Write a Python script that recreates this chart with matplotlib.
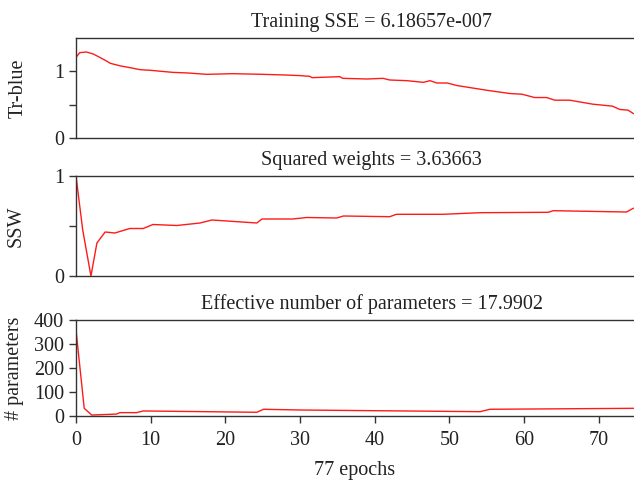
import numpy as np
import matplotlib
matplotlib.use("Agg")
import matplotlib.pyplot as plt

plt.rcParams['font.family'] = ['Liberation Serif', 'DejaVu Serif']

# données
ep_tr = [0, 0.5, 1.4, 2.3, 3, 4, 4.6, 6, 7, 8.6, 10, 12.9, 15, 17.5, 21, 25, 28, 30, 31.3, 31.6,
         35.3, 35.7, 39, 41.1, 42, 44.3, 46.5, 47.4, 48.3, 49.7, 51, 55, 58.1, 59.7, 61.4,
         63, 64.1, 66.1, 69.2, 71.8, 72.8, 73.9, 74.6]
tr_blue = [1.21, 1.28, 1.29, 1.26, 1.22, 1.16, 1.12, 1.08, 1.06, 1.025, 1.015, 0.985, 0.975,
           0.955, 0.965, 0.955, 0.945, 0.936, 0.925, 0.905, 0.92, 0.895, 0.885, 0.895, 0.87,
           0.86, 0.835, 0.86, 0.825, 0.825, 0.787, 0.716, 0.667, 0.657, 0.607, 0.607, 0.567,
           0.567, 0.507, 0.478, 0.428, 0.418, 0.368]

ep_ssw = [0, 0.9, 2.0, 2.8, 3.9, 5.2, 7.2, 9, 10.3, 13.5, 16.6, 18.2, 24.2, 24.9, 29, 30.9,
          34.9, 35.8, 42, 42.9, 49.1, 54.1, 63.2, 63.9, 73.7, 74.6]
ssw = [1.0, 0.46, 0.0, 0.33, 0.44, 0.43, 0.475, 0.475, 0.515, 0.505, 0.53, 0.56, 0.53, 0.57,
       0.57, 0.585, 0.58, 0.60, 0.593, 0.617, 0.617, 0.633, 0.637, 0.653, 0.64, 0.677]

ep_par = [0, 1.1, 2.1, 5.4, 5.9, 8.1, 9, 24.2, 25.1, 30, 54.1, 55.4, 74.6]
n_par = [358, 32, 4, 8, 14, 14, 21, 15.5, 28, 25, 18, 28, 32]

titres = ['Training SSE = 6.18657e-007', 'Squared weights = 3.63663',
          'Effective number of parameters = 17.9902']
ylabels = ['Tr-blue', 'SSW', '# parameters']

fig = plt.figure(figsize=(6.34, 4.83), dpi=100)
W, H = 634, 483
boites = [(38, 138), (176, 276), (320, 416)]
gris = '#333333'
texte = '#222222'
axes = []
for (top, bot) in boites:
    ax = fig.add_axes([76 / W, 1 - bot / H, 1 - 76 / W, (bot - top) / H])
    axes.append(ax)

ax1, ax2, ax3 = axes
ax1.plot(ep_tr, tr_blue, color='#ff1a1a', lw=1)
ax2.plot(ep_ssw, ssw, color='#ff1a1a', lw=1)
ax3.plot(ep_par, n_par, color='#ff1a1a', lw=1)

ax1.set_ylim(0, 1.5)
ax1.set_yticks([0, 0.5, 1])
ax1.set_yticklabels(['0', '', '1'])
ax2.set_ylim(0, 1)
ax2.set_yticks([0, 0.5, 1])
ax2.set_yticklabels(['0', '', '1'])
ax3.set_ylim(0, 400)
ax3.set_yticks([0, 100, 200, 300, 400])

for i, ax in enumerate(axes):
    ax.set_xlim(0, 74.7)
    ax.spines['right'].set_visible(False)
    for s in ['left', 'top', 'bottom']:
        ax.spines[s].set_color(gris)
        ax.spines[s].set_linewidth(1)
    ax.tick_params(direction='out', colors=gris, labelcolor=texte, labelsize=14.5,
                   length=5, width=1)
    ax.tick_params(axis='x', pad=6)
    ax.set_title(titres[i], fontsize=14.5, color=texte, x=0.53, pad=8)
    ax.set_ylabel(ylabels[i], fontsize=14.5, color=texte)
    if i < 2:
        ax.set_xticks([])
    else:
        ax.set_xticks(np.arange(0, 80, 10))

ax1.yaxis.set_label_coords(-0.086, 0.5)
ax2.yaxis.set_label_coords(-0.09, 0.5)
ax3.yaxis.set_label_coords(-0.093, 0.5)
ax3.set_xlabel('77 epochs', fontsize=14.5, color=texte, labelpad=8)

fig.savefig('out.png', dpi=100)
